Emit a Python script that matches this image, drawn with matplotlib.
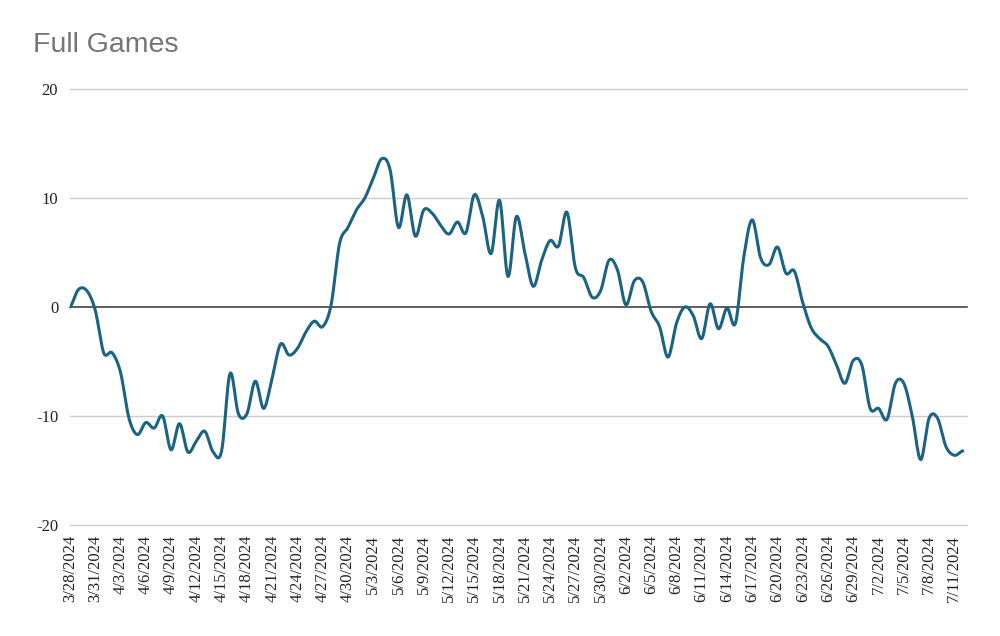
import matplotlib
matplotlib.use("Agg")
import matplotlib.pyplot as plt
import matplotlib.dates as mdates
import numpy as np
import pandas as pd

# daily values, starting 3/28/2024
start_date = "2024-03-28"
values = [
    0.0, 1.6, 1.5, -0.3, -4.2, -4.2, -6.0, -10.2, -11.7, -10.6,
    -11.1, -10.0, -13.1, -10.7, -13.3, -12.3, -11.4, -13.3, -13.2, -6.1,
    -9.8, -9.8, -6.8, -9.3, -6.5, -3.4, -4.4, -3.8, -2.3, -1.3,
    -1.8, 0.2, 5.8, 7.3, 8.9, 10.0, 11.8, 13.6, 12.6, 7.3,
    10.3, 6.5, 8.9, 8.6, 7.5, 6.7, 7.8, 6.8, 10.3, 8.3,
    4.9, 9.8, 2.8, 8.3, 5.0, 1.9, 4.3, 6.1, 5.6, 8.7,
    3.6, 2.7, 0.9, 1.5, 4.3, 3.4, 0.2, 2.4, 2.3, -0.4,
    -1.8, -4.6, -1.5, 0.0, -0.8, -2.9, 0.3, -2.0, -0.1, -1.5,
    4.6, 8.0, 4.5, 3.9, 5.5, 3.1, 3.3, 0.4, -1.9, -2.9,
    -3.6, -5.3, -7.0, -4.9, -5.3, -9.3, -9.3, -10.3, -7.0, -7.0,
    -10.0, -14.0, -10.2, -10.2, -12.8, -13.6, -13.2,
]
y_ticks = [-20, -10, 0, 10, 20]
title = "Full Games"

dates = pd.date_range(start_date, periods=len(values), freq="D")
x = mdates.date2num(dates.to_pydatetime())
y = np.array(values)


def catmull_rom(px, py, n=12):
    # uniform Catmull-Rom spline through the points, for the smoothed look
    px = np.concatenate([[2 * px[0] - px[1]], px, [2 * px[-1] - px[-2]]])
    py = np.concatenate([[py[0]], py, [py[-1]]])
    t = np.linspace(0, 1, n, endpoint=False)
    xs, ys = [], []
    for i in range(1, len(px) - 2):
        p0, p1, p2, p3 = py[i - 1], py[i], py[i + 1], py[i + 2]
        ys.append(0.5 * (2 * p1 + (-p0 + p2) * t
                         + (2 * p0 - 5 * p1 + 4 * p2 - p3) * t ** 2
                         + (-p0 + 3 * p1 - 3 * p2 + p3) * t ** 3))
        xs.append(px[i] + (px[i + 1] - px[i]) * t)
    xs.append([px[-2]])
    ys.append([py[-2]])
    return np.concatenate(xs), np.concatenate(ys)


sx, sy = catmull_rom(x, y)

fig = plt.figure(figsize=(10, 6.36), dpi=100)
ax = fig.add_axes((0.07, 0.1745, 0.897, 0.6855))

for v in y_ticks:
    if v == 0:
        ax.axhline(v, color="#333333", lw=1.1, zorder=2, clip_on=False)
    else:
        ax.axhline(v, color="#cccccc", lw=1.0, zorder=1, clip_on=False)

ax.plot(sx, sy, color="#1b6383", lw=2.2, zorder=3, solid_capstyle="round")

ax.set_ylim(-20, 20)
ax.set_xlim(x[0], x[0] + 106.5)
ax.set_yticks(y_ticks)
ax.set_yticklabels([str(v) for v in y_ticks], family="Liberation Serif",
                   fontsize=12, color="#222222")

tick_dates = dates[::3]
ax.set_xticks(x[::3])
ax.set_xticklabels([f"{d.month}/{d.day}/{d.year}" for d in tick_dates],
                   rotation=90, family="Liberation Serif", fontsize=12,
                   color="#222222")
ax.tick_params(axis="both", length=0)
ax.tick_params(axis="y", pad=8.5)
ax.tick_params(axis="x", pad=7)
for s in ax.spines.values():
    s.set_visible(False)

fig.text(0.033, 0.929, title, family="Liberation Sans", fontsize=20.5,
         color="#757575", va="center")

fig.savefig("out.png", dpi=100, facecolor="white")
